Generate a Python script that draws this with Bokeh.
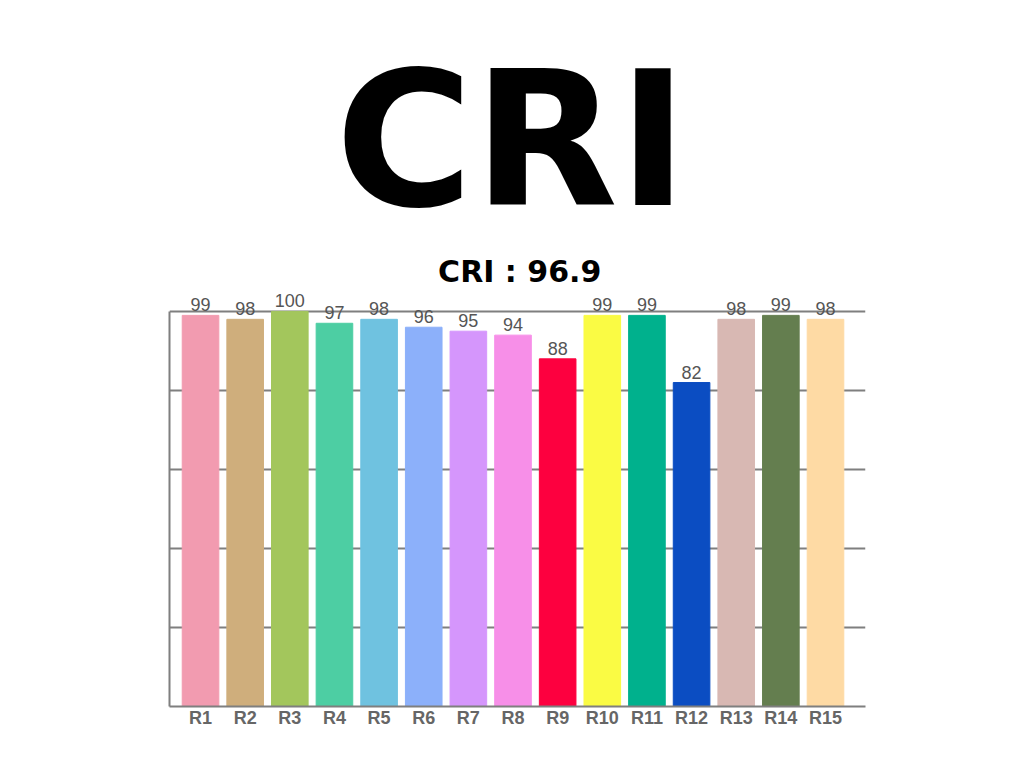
from bokeh.plotting import figure
from bokeh.models import ColumnDataSource, LabelSet, Label, FixedTicker
from bokeh.core.properties import value
from bokeh.embed import file_html
from bokeh.resources import INLINE

categories = ["R1", "R2", "R3", "R4", "R5", "R6", "R7", "R8", "R9", "R10",
              "R11", "R12", "R13", "R14", "R15"]
values = [99, 98, 100, 97, 98, 96, 95, 94, 88, 99, 99, 82, 98, 99, 98]
colors = ["#f29bb0", "#cfae7c", "#a3c65c", "#4dcea3", "#6fc2e0", "#8cb0fa",
          "#d596fc", "#f78fe8", "#fd003f", "#fafb44", "#00b18d", "#0b4dc2",
          "#d8b8b3", "#647e4f", "#fedaa4"]
title_text = "CRI"
subtitle_text = "CRI : 96.9"
y_ticks = [0, 20, 40, 60, 80, 100]

xs = list(range(1, len(categories) + 1))
src = ColumnDataSource(dict(x=xs, top=values, color=colors,
                            label=[str(v) for v in values]))

W, H = 1008, 752
p = figure(width=W, height=H, output_backend="svg", toolbar_location=None,
           x_range=(0.305, 15.896), y_range=(0, 178.7),
           min_border_left=169, min_border_right=143,
           min_border_top=0, min_border_bottom=46)
p.outline_line_color = None
p.background_fill_color = "white"
p.border_fill_color = "white"

p.vbar(x="x", top="top", width=0.82, color="color", source=src)

p.add_layout(LabelSet(x="x", y="top", text="label", source=src,
                      text_align="center", text_baseline="alphabetic",
                      y_offset=4, text_font=value("Liberation Sans"),
                      text_font_size=value("18px"),
                      text_color=value("#555555")))

# axes
p.xgrid.visible = False
p.ygrid.ticker = FixedTicker(ticks=y_ticks)
p.ygrid.grid_line_color = "#7f7f7f"
p.ygrid.grid_line_width = 2

p.xaxis.ticker = FixedTicker(ticks=xs)
p.xaxis.major_label_overrides = {x: c for x, c in zip(xs, categories)}
p.xaxis.major_tick_line_color = None
p.xaxis.minor_tick_line_color = None
p.xaxis.axis_line_color = "#7f7f7f"
p.xaxis.axis_line_width = 2
p.xaxis.major_label_text_font = "Liberation Sans"
p.xaxis.major_label_text_font_style = "bold"
p.xaxis.major_label_text_font_size = "18px"
p.xaxis.major_label_text_color = "#666666"
p.xaxis.major_label_standoff = -5

p.yaxis.ticker = FixedTicker(ticks=y_ticks)
p.yaxis.bounds = (0, 100)
p.yaxis.major_label_overrides = {t: "" for t in y_ticks}
p.yaxis.major_tick_line_color = None
p.yaxis.minor_tick_line_color = None
p.yaxis.axis_line_color = "#7f7f7f"
p.yaxis.axis_line_width = 2

p.add_layout(Label(x=7.97, y=143.4, text=title_text, text_align="center",
                   text_baseline="alphabetic", text_font="DejaVu Sans",
                   text_font_style="bold", text_font_size="188px",
                   text_color="black"))
p.add_layout(Label(x=8.15, y=110.1, text=subtitle_text, text_align="center",
                   text_baseline="alphabetic", text_font="DejaVu Sans",
                   text_font_style="bold", text_font_size="30px",
                   text_color="black"))

open("out.html", "w").write(file_html(p, INLINE))
